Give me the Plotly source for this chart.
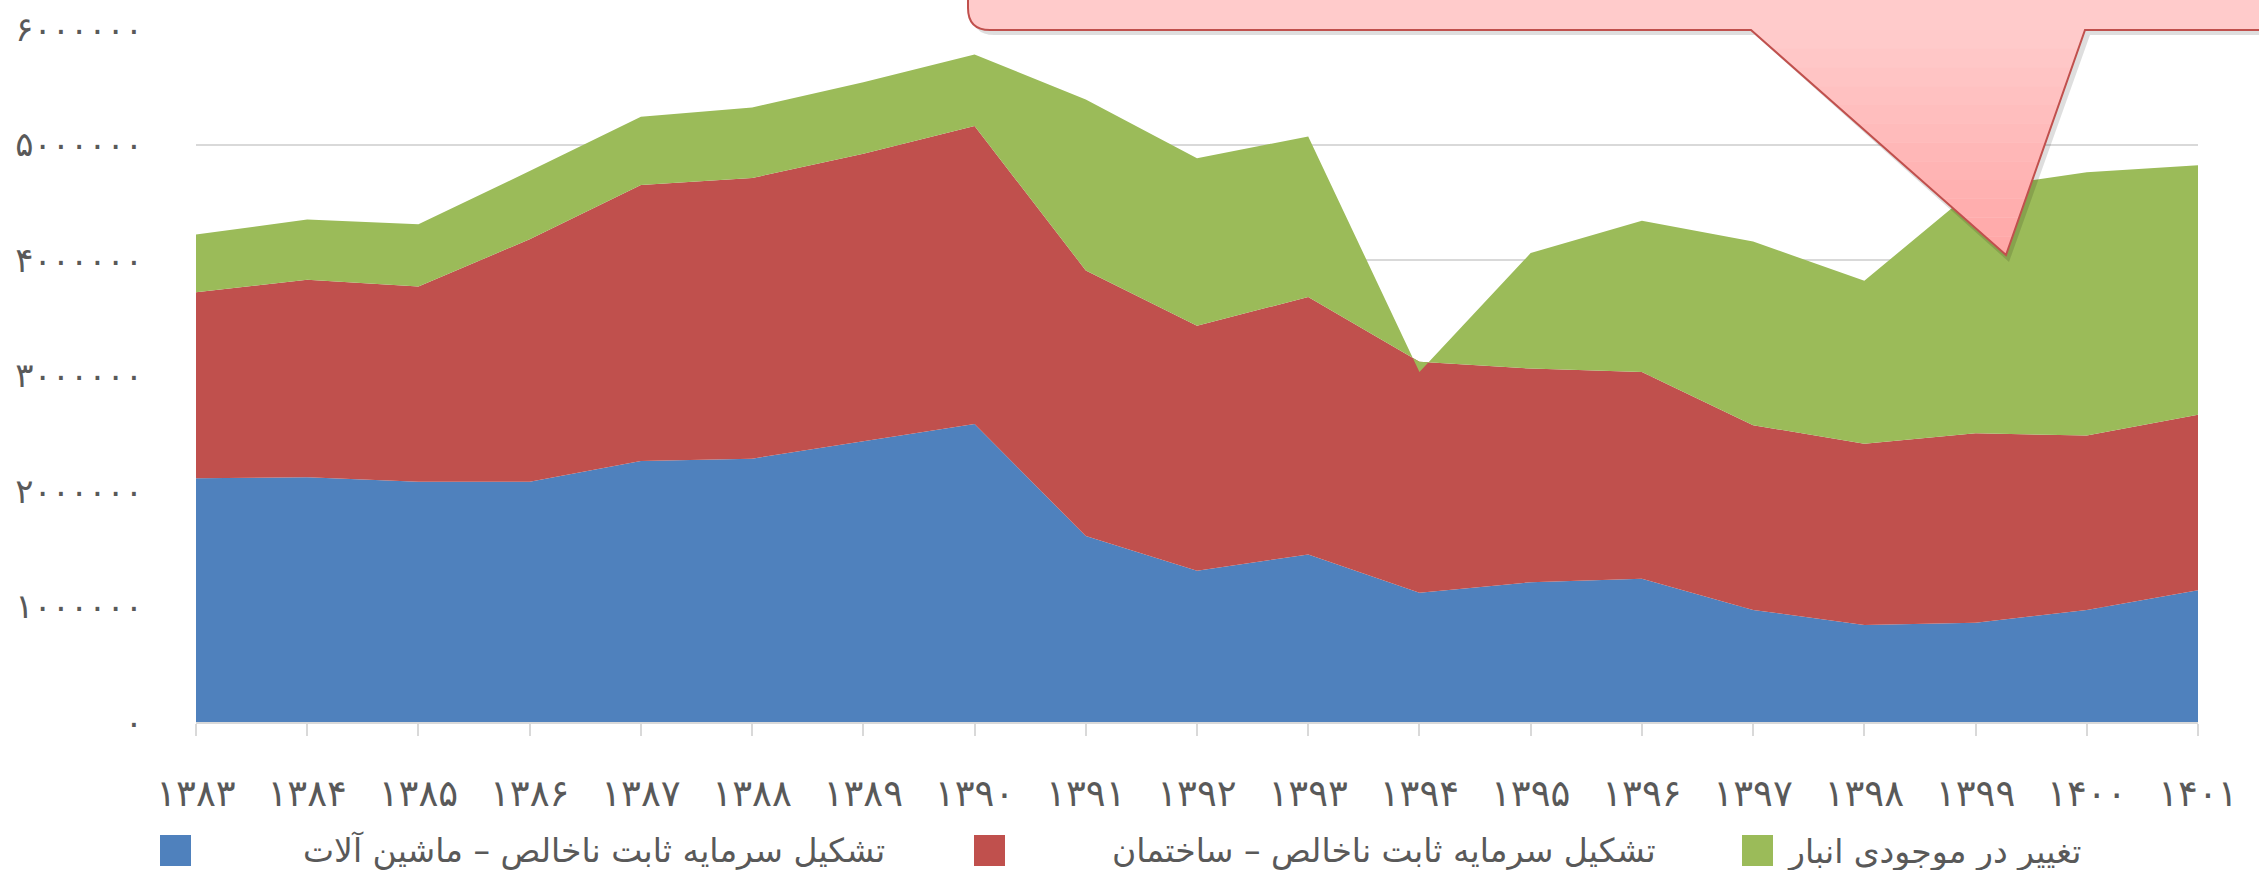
import plotly.graph_objects as go

# ---------------- data ----------------
years = ["۱۳۸۳", "۱۳۸۴", "۱۳۸۵", "۱۳۸۶", "۱۳۸۷", "۱۳۸۸", "۱۳۸۹", "۱۳۹۰", "۱۳۹۱", "۱۳۹۲",
         "۱۳۹۳", "۱۳۹۴", "۱۳۹۵", "۱۳۹۶", "۱۳۹۷", "۱۳۹۸", "۱۳۹۹", "۱۴۰۰", "۱۴۰۱"]

machinery = [2110000, 2120000, 2080000, 2080000, 2260000, 2280000, 2430000, 2580000, 1610000, 1310000,
             1450000, 1120000, 1210000, 1240000, 970000, 840000, 860000, 970000, 1140000]
construction = [1610000, 1710000, 1690000, 2100000, 2390000, 2430000, 2490000, 2580000, 2300000, 2120000,
                2230000, 2000000, 1850000, 1790000, 1600000, 1570000, 1640000, 1510000, 1520000]
inventory = [500000, 520000, 540000, 590000, 590000, 610000, 620000, 620000, 1480000, 1450000,
             1390000, -90000, 1000000, 1310000, 1590000, 1410000, 2120000, 2280000, 2160000]

series_names = ["تشکیل سرمایه ثابت ناخالص – ماشین آلات",
                "تشکیل سرمایه ثابت ناخالص – ساختمان",
                "تغییر در موجودی انبار"]
series_colors = ["#4F81BD", "#C0504D", "#9BBB59"]

y_tickvals = [0, 1000000, 2000000, 3000000, 4000000, 5000000, 6000000]
y_ticktext = ["۰", "۱۰۰۰۰۰۰", "۲۰۰۰۰۰۰", "۳۰۰۰۰۰۰", "۴۰۰۰۰۰۰", "۵۰۰۰۰۰۰", "۶۰۰۰۰۰۰"]

# ---------------- layout geometry ----------------
W, H = 2259, 870
L, R, T, B = 196, 61, 29, 148
PW, PH = W - L - R, H - T - B


def px(x):
    """page pixel x -> paper x"""
    return (x - L) / PW


def py(y):
    """page pixel y -> paper y"""
    return (H - B - y) / PH


FONT = "DejaVu Sans"
TXT = "#595959"

fig = go.Figure()
for name, vals, col in zip(series_names, [machinery, construction, inventory], series_colors):
    fig.add_trace(go.Scatter(
        x=years, y=vals, name=name, mode="lines", stackgroup="one",
        line=dict(width=0, color=col), fillcolor=col, hoverinfo="skip", showlegend=False))

# ---------------- callout (decorative) ----------------
shapes = []
body = (f"M{px(968)},{py(-30)} L{px(968)},{py(8)} Q{px(968)},{py(30)} {px(990)},{py(30)} "
        f"L{px(1751)},{py(30)} L{px(2006)},{py(255)} L{px(2085)},{py(30)} "
        f"L{px(2290)},{py(30)} L{px(2290)},{py(-30)} Z")
shadow = (f"M{px(972)},{py(-30)} L{px(972)},{py(12)} Q{px(972)},{py(35)} {px(994)},{py(35)} "
          f"L{px(1755)},{py(35)} L{px(2009)},{py(262)} L{px(2090)},{py(35)} "
          f"L{px(2290)},{py(35)} L{px(2290)},{py(-30)} Z")
shapes.append(dict(type="path", path=shadow, xref="paper", yref="paper",
                   fillcolor="rgba(0,0,0,0.13)", line=dict(width=0), layer="above"))
shapes.append(dict(type="path", path=body, xref="paper", yref="paper",
                   fillcolor="#FFCBCB", line=dict(width=0), layer="above"))
n = 12
c0, c1 = (255, 204, 204), (255, 166, 166)
for i in range(n):
    y0 = 30 + i * 225 / n
    y1 = y0 + 225 / n
    lx0 = 1751 + (y0 - 30) / 225 * (2006 - 1751)
    lx1 = 1751 + (y1 - 30) / 225 * (2006 - 1751)
    rx0 = 2085 - (y0 - 30) / 225 * (2085 - 2006)
    rx1 = 2085 - (y1 - 30) / 225 * (2085 - 2006)
    t = (i + 0.5) / n
    col = "rgb(%d,%d,%d)" % tuple(round(a + (b - a) * t) for a, b in zip(c0, c1))
    shapes.append(dict(type="path", xref="paper", yref="paper", layer="above",
                       path=f"M{px(lx0)},{py(y0)} L{px(lx1)},{py(y1)} L{px(rx1)},{py(y1)} L{px(rx0)},{py(y0)} Z",
                       fillcolor=col, line=dict(width=0)))
shapes.append(dict(type="path", path=body, xref="paper", yref="paper",
                   fillcolor="rgba(0,0,0,0)", line=dict(width=2, color="#C0504D"), layer="above"))

# ---------------- legend (squares + labels) ----------------
legend_sq_x = [160, 974, 1742]
legend_txt_cx = [594, 1384, 1934]
annotations = []
for name, col, sx, tx in zip(series_names, series_colors, legend_sq_x, legend_txt_cx):
    shapes.append(dict(type="rect", xref="paper", yref="paper",
                       x0=px(sx), x1=px(sx + 31), y0=py(866), y1=py(835),
                       fillcolor=col, line=dict(width=0)))
    annotations.append(dict(text=name, xref="paper", yref="paper", x=px(tx), y=py(851),
                            xanchor="center", yanchor="middle", showarrow=False,
                            font=dict(family=FONT, size=33, color=TXT)))

fig.update_layout(
    width=W, height=H,
    margin=dict(l=L, r=R, t=T, b=B, autoexpand=False),
    paper_bgcolor="white", plot_bgcolor="white",
    font=dict(family=FONT, color=TXT),
    showlegend=False,
    xaxis=dict(type="category", range=[0, len(years) - 1], showgrid=False,
               showline=True, linecolor="#D9D9D9", linewidth=1.5,
               ticks="outside", ticklen=12, tickcolor="#D9D9D9", tickwidth=1.5,
               tickfont=dict(family=FONT, size=37, color=TXT), ticklabelstandoff=26),
    yaxis=dict(range=[0, 6000000], tickvals=y_tickvals, ticktext=y_ticktext,
               showgrid=True, gridcolor="#D9D9D9", gridwidth=1.5, zeroline=False,
               showline=False, ticks="",
               tickfont=dict(family=FONT, size=34, color=TXT), ticklabelstandoff=52),
    shapes=shapes,
    annotations=annotations,
)

fig.write_html("out.html", config={"displayModeBar": False},
               post_script="document.body.style.margin='0px';")
